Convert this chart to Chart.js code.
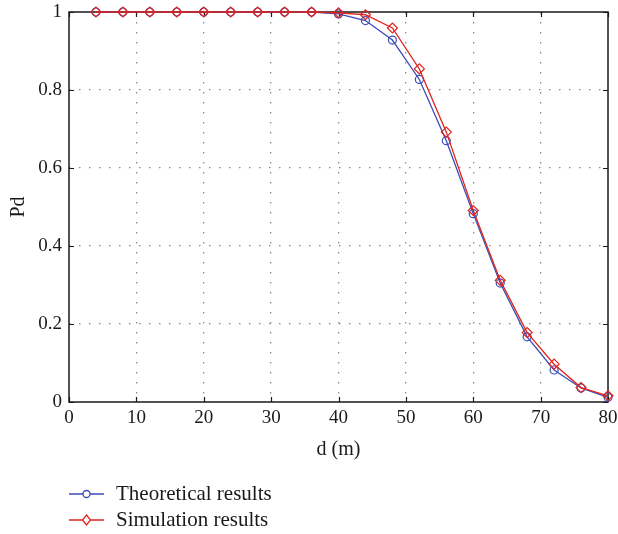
<!DOCTYPE html>
<html>
<head>
<meta charset="utf-8">
<script src="https://cdn.jsdelivr.net/npm/chart.js@4/dist/chart.umd.min.js"></script>
<style>
  html, body { margin: 0; padding: 0; background: #fff; }
  #wrap { width: 618px; height: 534px; position: relative; }
</style>
</head>
<body>
<div id="wrap"><canvas id="c" width="618" height="534"></canvas></div>
<script>
const distances = [4, 8, 12, 16, 20, 24, 28, 32, 36, 40, 44, 48, 52, 56, 60, 64, 68, 72, 76, 80];
const theoretical = [1, 1, 1, 1, 1, 1, 1, 1, 1, 0.995, 0.978, 0.928, 0.827, 0.670, 0.483, 0.305, 0.167, 0.082, 0.036, 0.012];
const simulation  = [1, 1, 1, 1, 1, 1, 1, 1, 1, 0.998, 0.993, 0.959, 0.854, 0.692, 0.491, 0.312, 0.178, 0.097, 0.037, 0.016];
const seriesNames = ['Theoretical results', 'Simulation results'];
const yTickLabels = ['0', '0.2', '0.4', '0.6', '0.8', '1'];
const xTitle = 'd (m)';
const yTitle = 'Pd';

const BLUE = '#3b4db8';
const RED = '#e0231c';
const FONT = "'Liberation Serif', 'Times New Roman', serif";

const boxPlugin = {
  id: 'box',
  beforeDatasetsDraw(chart) {
    const { ctx, chartArea: a, scales: { x, y } } = chart;
    ctx.save();
    ctx.strokeStyle = '#1a1a1a';
    ctx.lineWidth = 1.5;
    ctx.strokeRect(a.left, a.top, a.right - a.left, a.bottom - a.top);
    ctx.lineWidth = 1.2;
    ctx.beginPath();
    x.ticks.forEach((t, i) => {
      const px = Math.round(x.getPixelForTick(i)) + 0.5;
      ctx.moveTo(px, a.bottom); ctx.lineTo(px, a.bottom - 5);
      ctx.moveTo(px, a.top); ctx.lineTo(px, a.top + 5);
    });
    y.ticks.forEach((t, i) => {
      const py = Math.round(y.getPixelForTick(i)) + 0.5;
      ctx.moveTo(a.left, py); ctx.lineTo(a.left + 5, py);
      ctx.moveTo(a.right, py); ctx.lineTo(a.right - 5, py);
    });
    ctx.stroke();
    ctx.restore();
  },
  afterDraw(chart) {
    const { ctx } = chart;
    const rows = [
      { name: seriesNames[0], color: BLUE, shape: 'circle', y: 494 },
      { name: seriesNames[1], color: RED, shape: 'diamond', y: 520 }
    ];
    ctx.save();
    rows.forEach(r => {
      ctx.strokeStyle = r.color;
      ctx.lineWidth = 1.3;
      ctx.beginPath();
      ctx.moveTo(69, r.y); ctx.lineTo(104, r.y);
      ctx.stroke();
      ctx.beginPath();
      const cx = 86.5;
      if (r.shape === 'circle') {
        ctx.arc(cx, r.y, 3.5, 0, Math.PI * 2);
      } else {
        ctx.moveTo(cx, r.y - 5); ctx.lineTo(cx + 4, r.y); ctx.lineTo(cx, r.y + 5); ctx.lineTo(cx - 4, r.y); ctx.closePath();
      }
      ctx.fillStyle = '#fff';
      ctx.fill();
      ctx.stroke();
      ctx.fillStyle = '#1a1a1a';
      ctx.font = '21px ' + FONT;
      ctx.textBaseline = 'middle';
      ctx.textAlign = 'left';
      ctx.fillText(r.name, 116, r.y);
    });
    ctx.restore();
  }
};

const gridColor = (edgeVals) => (c) => (c.tick && edgeVals.includes(c.tick.value)) ? 'rgba(0,0,0,0)' : '#8c8c8c';

new Chart(document.getElementById('c'), {
  type: 'line',
  data: {
    datasets: [
      {
        label: seriesNames[1],
        data: distances.map((d, i) => ({ x: d, y: simulation[i] })),
        borderColor: RED,
        borderWidth: 1.3,
        pointStyle: 'rectRot',
        pointRadius: 5,
        pointBorderWidth: 1.2,
        pointBorderColor: RED,
        pointBackgroundColor: 'rgba(255,255,255,0)',
        tension: 0,
        order: 0
      },
      {
        label: seriesNames[0],
        data: distances.map((d, i) => ({ x: d, y: theoretical[i] })),
        borderColor: BLUE,
        borderWidth: 1.3,
        pointStyle: 'circle',
        pointRadius: 4,
        pointBorderWidth: 1.2,
        pointBorderColor: BLUE,
        pointBackgroundColor: 'rgba(255,255,255,0)',
        tension: 0,
        order: 1
      }
    ]
  },
  options: {
    responsive: false,
    animation: false,
    clip: false,
    layout: { padding: { left: 0, right: 10, top: 12, bottom: 72 } },
    plugins: { legend: { display: false }, tooltip: { enabled: false } },
    scales: {
      x: {
        type: 'linear',
        min: 0, max: 80,
        ticks: { stepSize: 10, color: '#1a1a1a', font: { family: FONT, size: 19 }, padding: 5, maxRotation: 0 },
        grid: { color: gridColor([0, 80]), lineWidth: 1.3, drawTicks: false },
        border: { display: false, dash: [1.5, 8.5] },
        title: { display: true, text: xTitle, color: '#1a1a1a', font: { family: FONT, size: 20 }, padding: { top: 2, bottom: 0 } },
        afterFit(s) { s.height = 60; s.paddingLeft = 0; s.paddingRight = 0; }
      },
      y: {
        type: 'linear',
        min: 0, max: 1,
        ticks: {
          stepSize: 0.2, color: '#1a1a1a', font: { family: FONT, size: 19 }, padding: 7,
          callback: (v, i) => yTickLabels[i]
        },
        grid: { color: gridColor([0, 1]), lineWidth: 1.3, drawTicks: false },
        border: { display: false, dash: [1.5, 8.5] },
        title: { display: true, text: yTitle, color: '#1a1a1a', font: { family: FONT, size: 20 }, padding: { top: 7, bottom: 4 } },
        afterFit(s) { s.width = 69; s.paddingTop = 0; s.paddingBottom = 0; }
      }
    }
  },
  plugins: [boxPlugin]
});
</script>
</body>
</html>
